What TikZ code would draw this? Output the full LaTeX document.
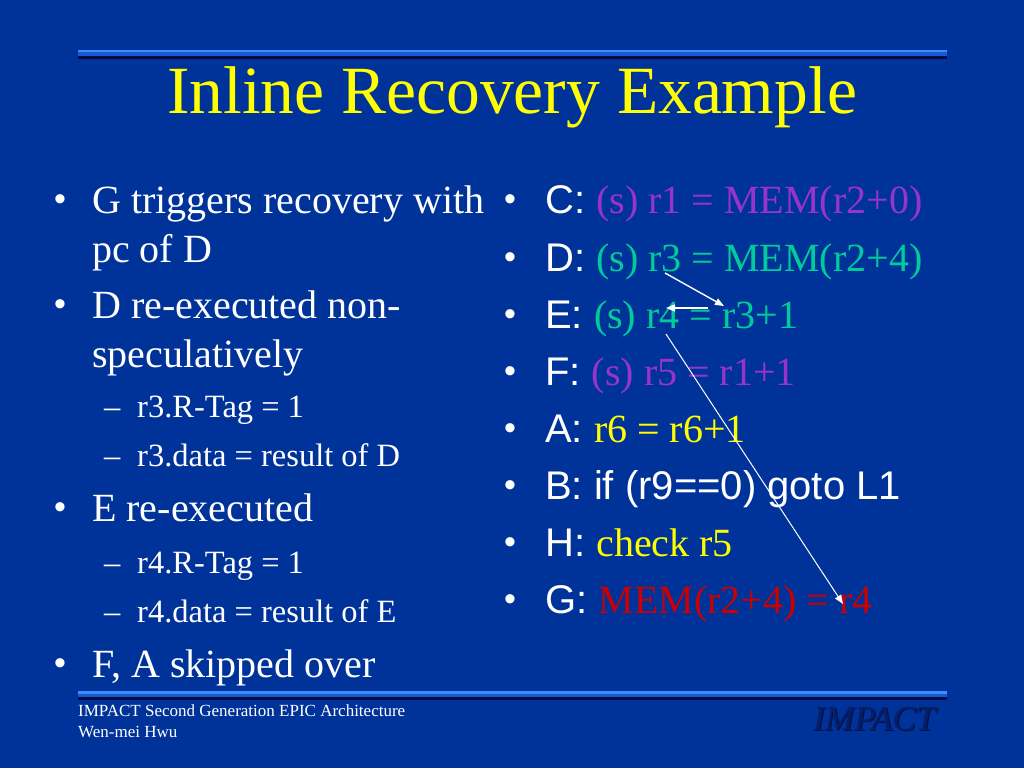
\documentclass[tikz,border=0pt]{standalone}
\usepackage{fontspec}
\setmainfont{Liberation Serif}
\newfontfamily\arialf{Liberation Sans}
\usetikzlibrary{arrows.meta}
\definecolor{bgblue}{RGB}{0,51,153}
\definecolor{ttyellow}{RGB}{255,255,0}
\definecolor{spurple}{RGB}{153,51,204}
\definecolor{sgreen}{RGB}{0,204,153}
\definecolor{sred}{RGB}{204,0,0}
\definecolor{barlight}{RGB}{60,140,255}
\definecolor{barmid}{RGB}{20,90,210}
\definecolor{bardark}{RGB}{0,10,60}
\definecolor{logoblue}{RGB}{8,30,105}
\definecolor{logoshadow}{RGB}{0,20,75}
\tikzset{
  txt/.style={anchor=base west, inner sep=0pt, text=white},
  big/.style={txt, font=\fontsize{40}{40}\selectfont},
  small/.style={txt, font=\fontsize{32.5}{32.5}\selectfont},
  bul/.style={txt, font=\arialf\fontsize{34}{34}\selectfont},
  dashmark/.style={txt, font=\fontsize{32.5}{32.5}\selectfont},
  rlab/.style={txt, font=\fontsize{40}{40}\selectfont},
  foot/.style={txt, font=\fontsize{17}{17}\selectfont},
  logotxt/.style={anchor=base west, inner sep=0pt, font=\fontsize{35}{35}\selectfont\itshape},
  arr/.style={draw=white, line width=1.4pt, -{Triangle[width=7pt,length=9pt]}},
}
\newcommand{\ar}[1]{{\arialf #1}}
\newcommand{\bu}{\raisebox{2.5pt}{•}}
\begin{document}
\begin{tikzpicture}[x=1pt,y=-1pt]
\fill[bgblue] (0,0) rectangle (1024,768);
\useasboundingbox (0,0) rectangle (1024,768);
% bars
\foreach \yy in {50,691}{
  \fill[barmid] (78,\yy) rectangle (947,\yy+8);
  \fill[barlight] (78,\yy) rectangle (947,\yy+2.5);
  \fill[bardark] (78,\yy+6) rectangle (947,\yy+8.5);
}
% title
\node[anchor=base, inner sep=0pt, text=ttyellow, font=\fontsize{67.5}{67.5}\selectfont] (title) at (512,113) {Inline Recovery Example};
% left column
\node[bul] (lb1) at (54,213) {\bu};
\node[big] (l1) at (92,213) {G triggers recovery with};
\node[big] (l1b) at (92,262) {pc of D};
\node[bul] (lb2) at (54,318) {\bu};
\node[big] (l2) at (92,318) {D re-executed non-};
\node[big] (l2b) at (92,367) {speculatively};
\node[dashmark] (ld1) at (104,417) {–};
\node[small] (l3) at (137,417) {r3.R-Tag = 1};
\node[dashmark] (ld2) at (104,466) {–};
\node[small] (l4) at (137,466) {r3.data = result of D};
\node[bul] (lb3) at (54,521) {\bu};
\node[big] (l5) at (92,521) {E re-executed};
\node[dashmark] (ld3) at (104,573) {–};
\node[small] (l6) at (137,573) {r4.R-Tag = 1};
\node[dashmark] (ld4) at (104,622) {–};
\node[small] (l7) at (137,622) {r4.data = result of E};
\node[bul] (lb4) at (54,677) {\bu};
\node[big] (l8) at (92,677) {F, A skipped over};
% right column
\node[bul] (rb1) at (504,213) {\bu};
\node[rlab] (rC) at (545,213) {\ar{C: }\textcolor{spurple}{(s) r1 = MEM(r2+0)}};
\node[bul] (rb2) at (504,271) {\bu};
\node[rlab] (rD) at (545,271) {\ar{D: }\textcolor{sgreen}{(s) r3 = MEM(r2+4)}};
\node[bul] (rb3) at (504,328) {\bu};
\node[rlab] (rE) at (545,328) {\ar{E: }\textcolor{sgreen}{(s) r4 = r3+1}};
\node[bul] (rb4) at (504,385) {\bu};
\node[rlab] (rF) at (545,385) {\ar{F: }\textcolor{spurple}{(s) r5 = r1+1}};
\node[bul] (rb5) at (504,442) {\bu};
\node[rlab] (rA) at (545,442) {\ar{A: }\textcolor{ttyellow}{r6 = r6+1}};
\node[bul] (rb6) at (504,499) {\bu};
\node[rlab] (rB) at (545,499) {\ar{B: if (r9==0) goto L1}};
\node[bul] (rb7) at (504,556) {\bu};
\node[rlab] (rH) at (545,556) {\ar{H: }\textcolor{ttyellow}{check r5}};
\node[bul] (rb8) at (504,613) {\bu};
\node[rlab] (rG) at (545,613) {\ar{G: }\textcolor{sred}{MEM(r2+4) = r4}};
% arrows
\coordinate (d3) at (665,273);
\coordinate (e3) at (724,306);
\coordinate (eq) at (708,308);
\coordinate (e4) at (666,308);
\coordinate (e4b) at (666,334);
\coordinate (g4) at (843,604);
\draw[arr] (d3) -- (e3);
\draw[arr] (eq) -- (e4);
\draw[arr, line width=1pt] (e4b) -- (g4);
% footer
\node[foot] (f1) at (78,716) {IMPACT Second Generation EPIC Architecture};
\node[foot] (f2) at (78,737) {Wen-mei Hwu};
\node[logotxt, text=logoshadow] (logos) at (814.5,731.5) {IMPACT};
\node[logotxt, text=logoblue] (logo) at (813,730) {IMPACT};
\end{tikzpicture}
\end{document}
